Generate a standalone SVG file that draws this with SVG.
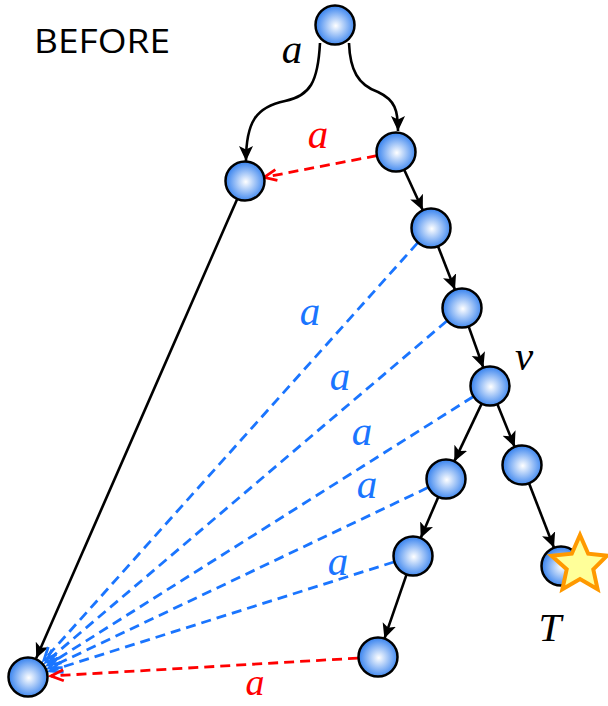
<svg xmlns="http://www.w3.org/2000/svg" width="608" height="706" viewBox="0 0 608 706">
<style>
.node{stroke:#000;stroke-width:2.5;fill:url(#g)}
.e{stroke:#000;stroke-width:2.6;fill:none;marker-end:url(#ab)}
.b{stroke:#1a75ff;stroke-width:2.8;stroke-dasharray:10 6;fill:none;marker-end:url(#abl)}
.r{stroke:#ff0000;stroke-width:2.8;stroke-dasharray:10 6;fill:none;marker-end:url(#ar)}
.lbl{font-family:"Liberation Serif",serif;font-style:italic;font-size:41px;text-anchor:middle}
</style>
<defs>
<radialGradient id="g" cx="0.52" cy="0.52" r="0.5">
<stop offset="0" stop-color="#ffffff"/>
<stop offset="1" stop-color="#3d86ef"/>
</radialGradient>
<marker id="ab" markerUnits="userSpaceOnUse" markerWidth="18" markerHeight="16" refX="15" refY="7" orient="auto">
<path d="M0,0 L15,7 L0,14 L3.5,7 z" fill="#000"/>
</marker>
<marker id="abl" markerUnits="userSpaceOnUse" markerWidth="18" markerHeight="16" refX="14" refY="7" orient="auto">
<path d="M1.5,1.5 L14,7 L1.5,12.5" fill="none" stroke="#1a75ff" stroke-width="2.8"/>
</marker>
<marker id="ar" markerUnits="userSpaceOnUse" markerWidth="18" markerHeight="16" refX="14" refY="7" orient="auto">
<path d="M1.5,1.5 L14,7 L1.5,12.5" fill="none" stroke="#ff0000" stroke-width="2.8"/>
</marker>
</defs>
<rect width="608" height="706" fill="#fff"/>
<text x="34" y="53" font-family="Open Sans, Liberation Sans, Arial, sans-serif" font-size="32" textLength="136" lengthAdjust="spacingAndGlyphs">BEFORE</text>
<g id="connectors">
<path class="e" d="M320,43 C318,82 310,96 285,101 C256,107 246,122 246,161"/>
<path class="e" d="M349,43 C350,70 358,85 378,92 C395,100 398,110 398,131"/>
<path class="r" d="M376.9,155.7 L264.1,177.3"/>
<path class="e" d="M237.2,198.9 L36.2,658.2"/>
<path class="e" d="M404.2,169.7 L422.8,210.3"/>
<path class="e" d="M438,246.2 L455,289.8"/>
<path class="e" d="M468.6,326.4 L483.4,367.7"/>
<path class="e" d="M481.7,403.6 L454.3,461.4"/>
<path class="e" d="M497.3,404.1 L514.7,446.9"/>
<path class="e" d="M438.3,496.9 L420.7,538.1"/>
<path class="e" d="M529,483.2 L554,547.8"/>
<path class="e" d="M406.6,574.4 L384.4,638.6"/>
<path class="b" d="M417.6,242.9 L44,660"/>
<path class="b" d="M446.8,321 L46,662"/>
<path class="b" d="M473.1,396.7 L48,665"/>
<path class="b" d="M427.9,487.6 L49,668"/>
<path class="b" d="M393.9,562 L50,671"/>
<path class="r" d="M358,658.1 L51,676"/>
</g>
<g id="n1"><circle class="node" cx="335" cy="25" r="19.5"/></g>
<g id="n2"><circle class="node" cx="245" cy="181" r="19.5"/></g>
<g id="n3"><circle class="node" cx="396" cy="152" r="19.5"/></g>
<g id="n4"><circle class="node" cx="431" cy="228" r="19.5"/></g>
<g id="n5"><circle class="node" cx="462" cy="308" r="19.5"/></g>
<g id="v"><circle class="node" cx="490" cy="386" r="19.5"/></g>
<g id="n7"><circle class="node" cx="446" cy="479" r="19.5"/></g>
<g id="n8"><circle class="node" cx="522" cy="465" r="19.5"/></g>
<g id="n9"><circle class="node" cx="413" cy="556" r="19.5"/></g>
<g id="n10"><circle class="node" cx="378" cy="657" r="19.5"/></g>
<g id="bl"><circle class="node" cx="28" cy="677" r="19.5"/></g>
<g id="T">
<circle class="node" cx="561" cy="566" r="19.5"/>
<polygon points="580,535 588.2,553.7 607,555.7 593.3,569.3 597.6,589.3 580,579 562.4,589.3 566.7,569.3 551.5,555.7 571.8,553.7" fill="#ffff99" stroke="#ff9900" stroke-width="4" stroke-linejoin="miter"/>
</g>
<g id="labels">
<text class="lbl" x="292" y="63" fill="#000">a</text>
<text class="lbl" x="318" y="148" fill="#ff0000">a</text>
<text class="lbl" x="310" y="325" fill="#1a75ff">a</text>
<text class="lbl" x="340" y="390" fill="#1a75ff">a</text>
<text class="lbl" x="362" y="445" fill="#1a75ff">a</text>
<text class="lbl" x="367" y="498" fill="#1a75ff">a</text>
<text class="lbl" x="338" y="575" fill="#1a75ff">a</text>
<text class="lbl" x="255" y="695" fill="#ff0000" style="font-size:38px">a</text>
<text class="lbl" x="524" y="370" fill="#000">v</text>
<text class="lbl" x="550" y="641" fill="#000">T</text>
</g>
</svg>
